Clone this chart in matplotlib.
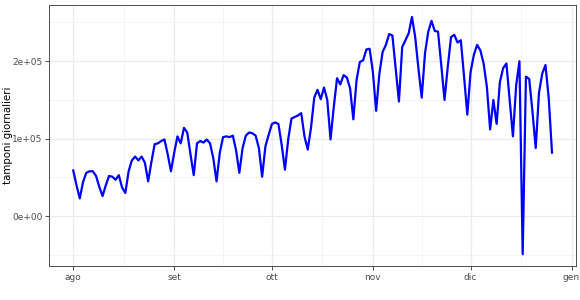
import numpy as np
import pandas as pd
import matplotlib
matplotlib.use("Agg")
import matplotlib.pyplot as plt
import matplotlib.dates as mdates

# tamponi giornalieri (migliaia), dal 1 agosto al 26 dicembre 2020
start_date = "2020-08-01"
tamponi_k = [
    59, 40, 23, 44, 56, 58, 58, 52, 38, 26,
    40, 52, 51, 47, 53, 37, 30, 58, 72, 77,
    72, 77, 69, 45, 70, 93, 94, 97, 99, 80,
    58, 82, 103, 94, 114, 108, 80, 53, 94, 97,
    95, 99, 94, 75, 45, 82, 102, 103, 102, 104,
    85, 56, 88, 104, 108, 107, 104, 88, 51, 90,
    105, 119, 121, 119, 92, 60, 99, 126, 128, 130,
    133, 103, 86, 114, 153, 163, 151, 166, 150, 99,
    141, 178, 170, 182, 179, 165, 125, 176, 199, 201,
    215, 216, 186, 136, 184, 212, 221, 235, 233, 190,
    148, 218, 227, 236, 257, 231, 190, 153, 210, 238,
    252, 239, 238, 195, 150, 193, 231, 234, 224, 227,
    180, 131, 186, 208, 221, 214, 197, 167, 112, 150,
    119, 173, 191, 197, 150, 103, 169, 200, -49, 180,
    177, 135, 88, 159, 184, 195, 152, 82,
]

month_ticks = ["2020-08-01", "2020-09-01", "2020-10-01",
               "2020-11-01", "2020-12-01", "2021-01-01"]
month_labels = ["ago", "set", "ott", "nov", "dic", "gen"]
y_ticks = [0, 100000, 200000]
y_labels = ["0e+00", "1e+05", "2e+05"]

dates = pd.date_range(start_date, periods=len(tamponi_k), freq="D")
values = np.array(tamponi_k) * 1000

fig = plt.figure(figsize=(5.8, 3.0), dpi=100)
ax = fig.add_axes([0.085, 0.113, 0.908, 0.870])

ax.plot(dates, values, color="blue", linewidth=1.6, zorder=3)

# limiti con espansione del 5% come in ggplot
x0 = mdates.date2num(dates[0])
x1 = mdates.date2num(dates[-1])
dx = (x1 - x0) * 0.05
ax.set_xlim(x0 - dx, x1 + dx)
ymin, ymax = values.min(), values.max()
dy = (ymax - ymin) * 0.05
ax.set_ylim(ymin - dy, ymax + dy)

major_x = mdates.date2num(pd.to_datetime(month_ticks))
ax.set_xticks(major_x)
ax.set_xticklabels(month_labels)
ax.set_xticks((major_x[:-1] + major_x[1:]) / 2, minor=True)
ax.set_yticks(y_ticks)
ax.set_yticklabels(y_labels)
ax.set_yticks([-50000, 50000, 150000, 250000], minor=True)

ax.grid(which="major", color="#ebebeb", linewidth=0.9, zorder=0)
ax.grid(which="minor", color="#f2f2f2", linewidth=0.5, zorder=0)
ax.set_axisbelow(True)

ax.tick_params(which="major", length=3, width=0.6, color="#333333",
               labelsize=6.5, labelcolor="#4d4d4d", pad=2)
ax.tick_params(which="minor", length=0)
for s in ax.spines.values():
    s.set_color("#333333")
    s.set_linewidth(0.6)

ax.set_ylabel("tamponi giornalieri", fontsize=7.4)
ax.yaxis.set_label_coords(-0.069, 0.5)

plt.savefig("out.png", dpi=100)
